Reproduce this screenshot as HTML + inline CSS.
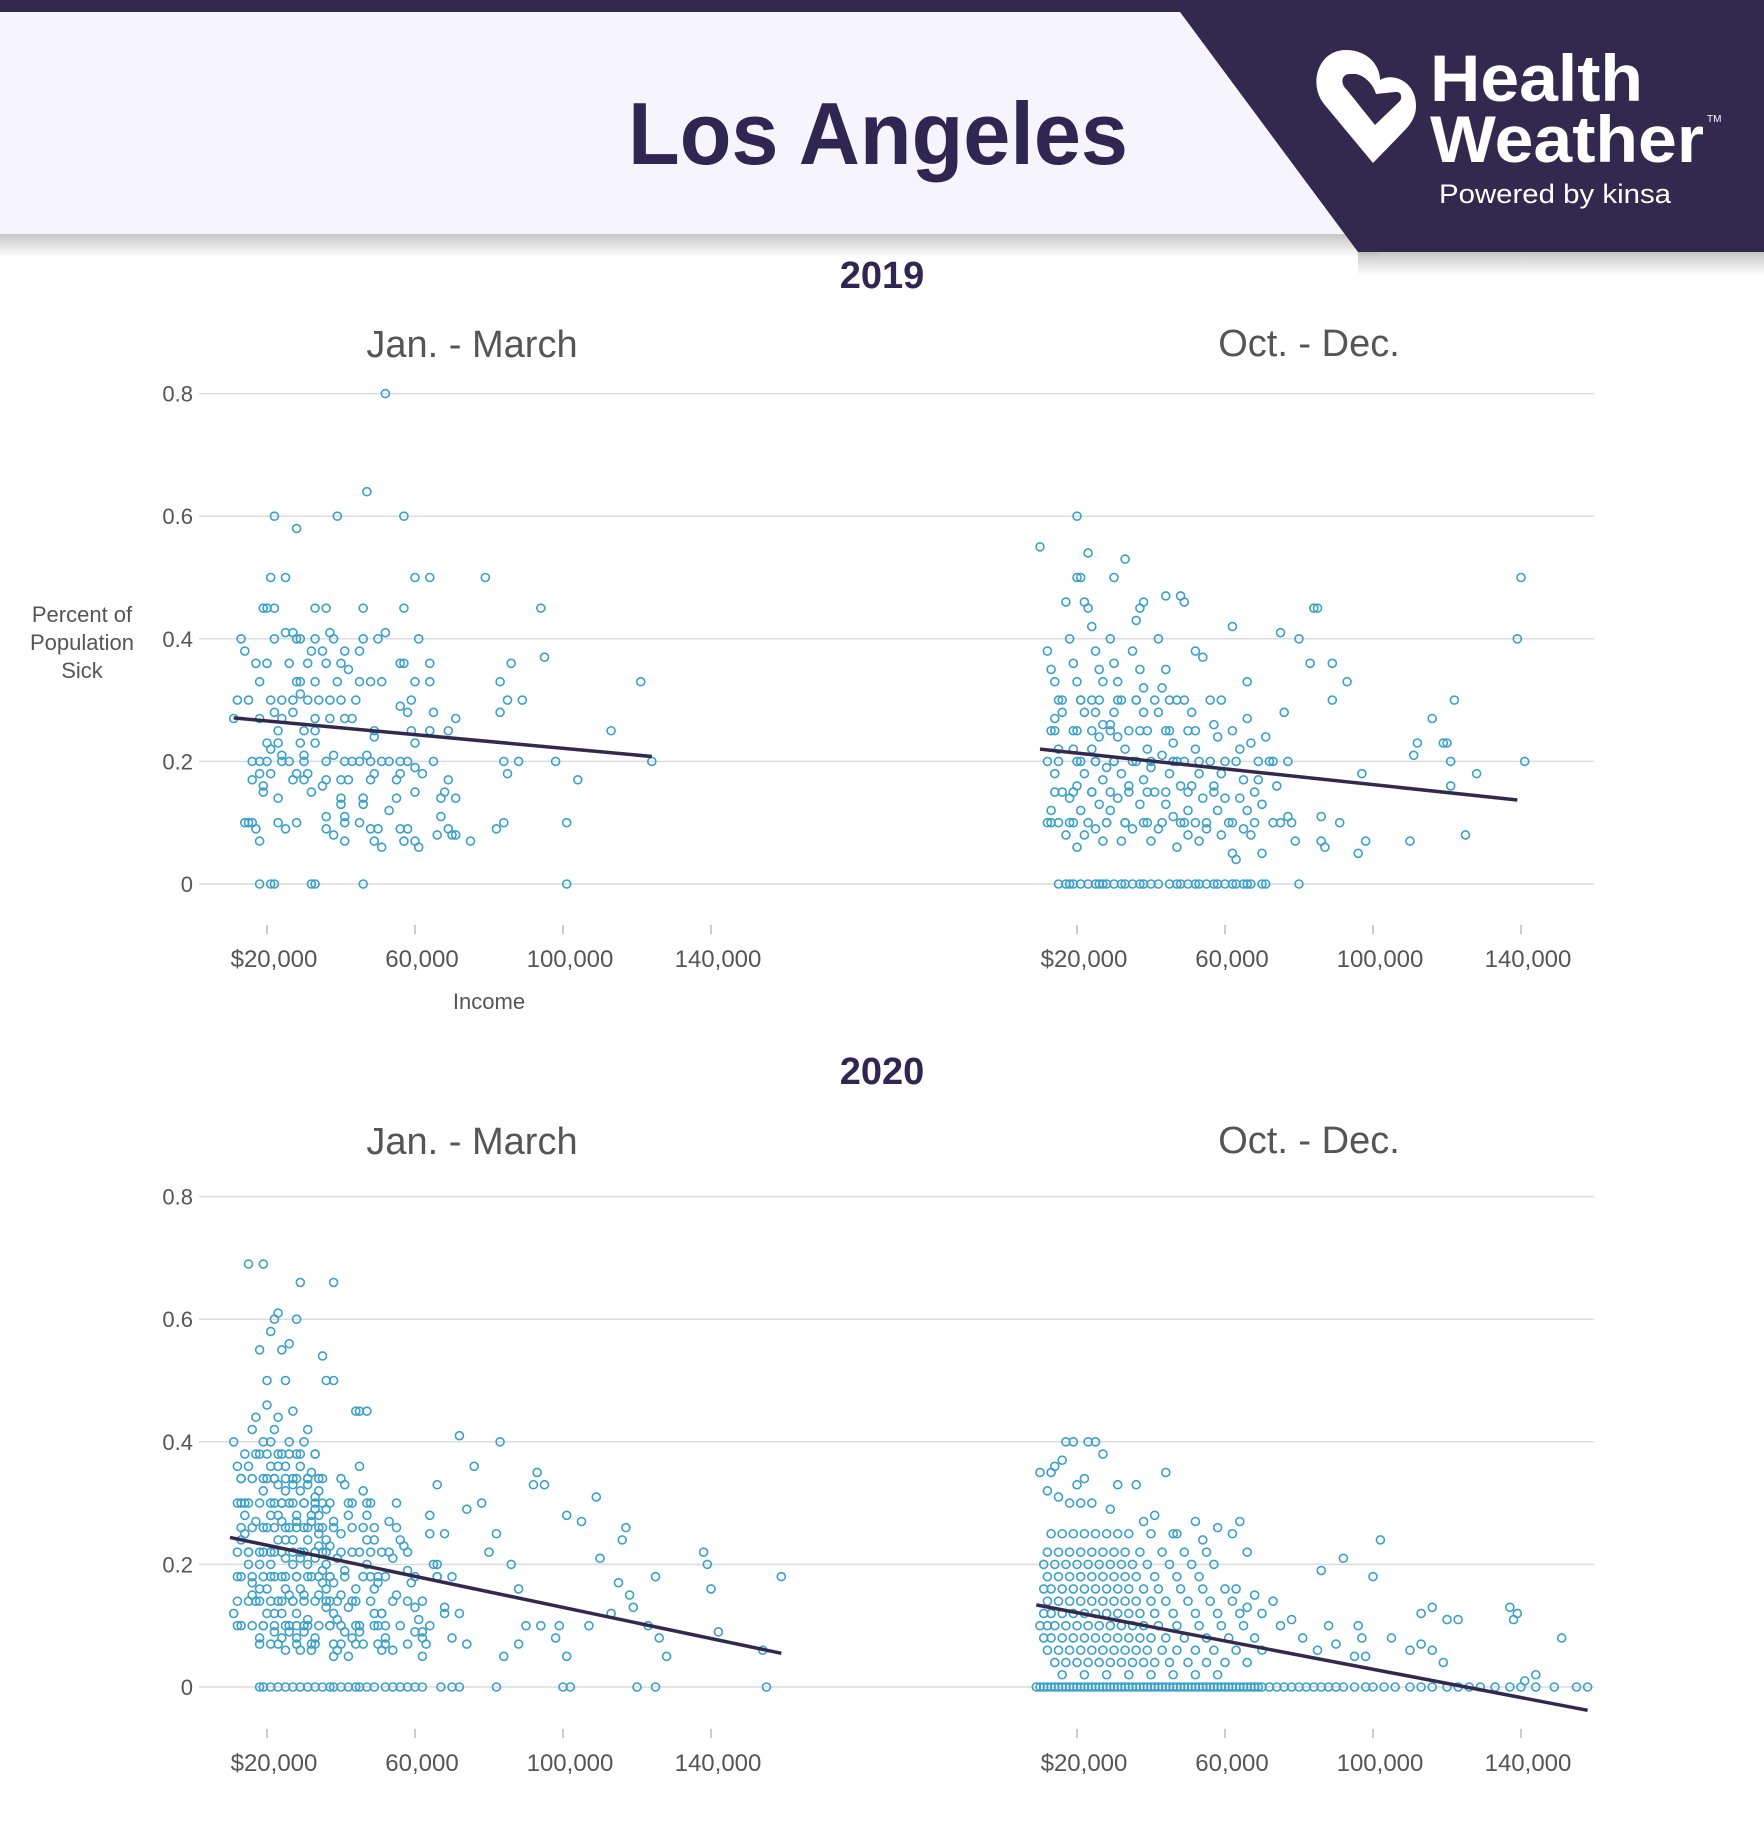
<!DOCTYPE html>
<html><head><meta charset="utf-8"><title>Los Angeles Health Weather</title>
<style>
html,body{margin:0;padding:0;background:#fff;}
svg{display:block;font-family:"Liberation Sans",sans-serif;}
</style></head>
<body>
<svg id="chart" width="1764" height="1836" viewBox="0 0 1764 1836" xmlns="http://www.w3.org/2000/svg">
<defs>
<linearGradient id="sh" x1="0" y1="0" x2="0" y2="1"><stop offset="0" stop-color="#000" stop-opacity="0.22"/><stop offset="1" stop-color="#000" stop-opacity="0"/></linearGradient>
</defs>
<g>
<rect x="0" y="234" width="1380" height="24" fill="url(#sh)"/>
<rect x="1358" y="252" width="406" height="24" fill="url(#sh)"/>
<rect x="0" y="0" width="1764" height="12" fill="#33294f"/>
<rect x="0" y="12" width="1400" height="222" fill="#f6f5fd"/>
<polygon points="1180,0 1764,0 1764,252 1358,252 1180,12" fill="#33294f"/>
<text x="878" y="164" text-anchor="middle" font-size="88" font-weight="bold" fill="#2f2652" textLength="500" lengthAdjust="spacingAndGlyphs">Los Angeles</text>
<g>
<path d="M1373,163 L1324,104 C1308,84 1318,50 1346,50 C1366,50 1380,64 1380,80 C1394,72 1416,82 1416,106 C1416,116 1411,124 1404,131 Z" fill="#fff"/>
<path d="M1350,74 C1341,74 1340,84 1347,90 L1375,125 L1400,101 C1403,96 1400,91 1395,92 L1376,94 C1374,86 1366,76 1356,74 Z" fill="#33294f"/>
</g>
<text x="1430" y="101" font-size="66" font-weight="bold" fill="#fff" textLength="213" lengthAdjust="spacingAndGlyphs">Health</text>
<text x="1430" y="162" font-size="66" font-weight="bold" fill="#fff" textLength="274" lengthAdjust="spacingAndGlyphs">Weather</text>
<text x="1707" y="122" font-size="10" fill="#fff">TM</text>
<text x="1439" y="203" font-size="27" fill="#fff" textLength="232" lengthAdjust="spacingAndGlyphs">Powered by kinsa</text>
</g>
<g id="plots"></g>
</svg>
<script>
// Data (income in thousands, share of population sick)
const tlX=[52,47,22,39,57,28,21,25,60,64,79,19,20,22,33,36,46,57,94,13,22,25,27,28,29,33,37,38,46,50,52,61,14,32,35,41,45,17,20,26,31,36,40,42,56,57,64,86,95,18,28,29,33,39,45,48,51,60,64,83,121,12,15,21,24,27,29,31,34,37,40,44,56,59,85,89,11,18,22,24,27,33,37,41,43,58,65,71,83,23,30,33,49,59,64,69,113,20,23,29,33,49,60,21,24,30,38,47,16,18,20,24,26,30,36,41,43,45,48,51,53,56,58,65,84,88,98,124,18,21,28,31,49,56,60,62,16,19,27,30,36,40,42,48,55,69,85,104,19,32,35,60,68,23,40,46,55,67,71,40,46,53,14,15,16,23,28,36,41,41,45,48,50,56,58,67,69,82,84,101,17,25,36,38,66,70,71,75,18,41,49,57,60,51,61,18,21,22,32,33,46,101];
const tlY=[.8,.64,.6,.6,.6,.58,.5,.5,.5,.5,.5,.45,.45,.45,.45,.45,.45,.45,.45,.4,.4,.41,.41,.4,.4,.4,.41,.4,.4,.4,.41,.4,.38,.38,.38,.38,.38,.36,.36,.36,.36,.36,.36,.35,.36,.36,.36,.36,.37,.33,.33,.33,.33,.33,.33,.33,.33,.33,.33,.33,.33,.3,.3,.3,.3,.3,.31,.3,.3,.3,.3,.3,.29,.3,.3,.3,.27,.27,.28,.27,.28,.27,.27,.27,.27,.28,.28,.27,.28,.25,.25,.25,.25,.25,.25,.25,.25,.23,.23,.23,.23,.24,.23,.22,.21,.21,.21,.21,.2,.2,.2,.2,.2,.2,.2,.2,.2,.2,.2,.2,.2,.2,.2,.2,.2,.2,.2,.2,.18,.18,.18,.18,.18,.18,.19,.18,.17,.16,.17,.17,.17,.17,.17,.17,.17,.17,.18,.17,.15,.15,.16,.15,.15,.14,.14,.14,.14,.14,.14,.13,.13,.12,.1,.1,.1,.1,.1,.11,.11,.1,.1,.09,.09,.09,.09,.11,.09,.09,.1,.1,.09,.09,.09,.08,.08,.08,.08,.07,.07,.07,.07,.07,.07,.06,.06,0,0,0,0,0,0,0];
const tlLine=[[11,.271],[124,.208]];

const trX=[20,10,23,33,20,21,30,44,48,49,17,22,23,38,37,84,140,139,141,85,75,80,62,52,54,59,66,76,83,89,89,93,111,112,116,119,120,121,122,128,97,110,121,125,96,98,91,86,86,87,79,78,75,73,77,72,77,74,73,71,15,17,18,23,25,27,30,32,35,37,40,45,47,50,53,55,58,60,63,65,67,70,71,80,
12,13,14,15,16,14,13,15,12,14,16,13,15,17,12,18,19,20,21,22,20,19,21,22,20,18,21,19,22,20,24,25,26,27,24,25,27,26,24,25,28,27,24,26,28,25,27,29,30,31,32,30,29,31,33,30,32,34,31,29,33,35,32,36,35,37,38,36,38,37,39,36,40,38,41,37,39,42,40,42,44,43,45,42,44,46,43,47,45,48,44,46,48,50,47,49,51,50,52,49,53,51,54,50,52,55,53,56,57,58,56,59,57,60,58,61,59,62,63,62,64,63,65,64,66,65,67,68,69,70,68,70,66,67,69];
const trY=[.6,.55,.54,.53,.5,.5,.5,.47,.47,.46,.46,.46,.45,.46,.45,.45,.5,.4,.2,.45,.41,.4,.42,.38,.37,.3,.33,.28,.36,.36,.3,.33,.21,.23,.27,.23,.23,.2,.3,.18,.18,.07,.16,.08,.05,.07,.1,.07,.11,.06,.07,.1,.1,.1,.11,.2,.2,.16,.2,.24,0,0,0,0,0,0,0,0,0,0,0,0,0,0,0,0,0,0,0,0,0,0,0,0,
.38,.35,.33,.3,.28,.27,.25,.22,.2,.18,.15,.12,.1,.08,.1,.4,.36,.33,.3,.28,.25,.22,.2,.18,.16,.14,.12,.1,.08,.06,.42,.38,.35,.33,.3,.28,.26,.24,.22,.2,.19,.17,.15,.13,.1,.09,.07,.4,.36,.33,.3,.28,.26,.24,.22,.2,.18,.16,.14,.12,.1,.09,.07,.43,.38,.35,.32,.3,.28,.25,.22,.2,.19,.17,.15,.13,.1,.09,.07,.4,.35,.32,.3,.28,.25,.23,.21,.2,.18,.16,.13,.11,.1,.08,.06,.3,.28,.25,.22,.2,.18,.16,.14,.12,.1,.09,.07,.3,.26,.24,.2,.18,.16,.14,.12,.1,.08,.05,.04,.25,.22,.2,.17,.14,.12,.09,.08,.15,.2,.13,.1,.05,.27,.23,.17];
const trRowY=[.3,.25,.2,.15,.1,0];
const trRowX=[[16,21,26,31,36,41,47],[14,19,24,29,34,39,45,52],[15,20,25,30,35,40,46,53,60],[14,19,24,29,34,39,44,50,57],[13,18,23,28,33,38,43,49,55,62],[19,21,26,28,33,38,42,48,52,57,62,66]];
const trLine=[[10,.22],[139,.137]];

const blX=[15,19,29,38,22,23,21,28,26,18,24,35,20,25,36,38,45,47,83,93,92,95,109,101,105,117,116,138,139,125,159,140,110,115,118,113,119,107,123,126,128,142,154,99,94,90,88,84,98,101,88,86,80,82,74,78,18,19,25,27,29,31,35,38,40,42,45,49,52,54,58,60,67,70,72,82,100,102,120,125,155,
11,12,13,14,15,16,12,13,14,15,16,11,12,13,14,15,16,17,18,17,18,19,20,21,17,18,19,20,21,22,18,19,20,21,22,23,19,20,21,22,23,24,20,21,22,23,24,25,21,22,23,24,25,26,22,23,24,25,26,27,23,24,25,26,27,28,24,25,26,27,28,29,25,26,27,28,29,30,26,27,28,29,30,31,27,28,29,30,31,32,28,29,30,31,32,33,29,30,31,32,33,34,30,31,32,33,34,35,31,32,33,34,35,36,32,33,34,35,36,37,33,34,35,36,37,38,34,35,36,37,38,39,36,37,38,39,40,41,38,39,40,41,42,43,40,41,42,43,44,45,42,43,44,45,46,47,44,45,46,47,48,49,46,47,48,49,50,51,48,49,50,51,52,53,50,51,52,53,54,55,52,54,56,58,60,62,55,57,59,61,63,65,58,60,62,64,66,68,62,64,66,68,70,72,66,68,70,72,74,76];
const blY=[.69,.69,.66,.66,.6,.61,.58,.6,.56,.55,.55,.54,.5,.5,.5,.5,.45,.45,.4,.35,.33,.33,.31,.28,.27,.26,.24,.22,.2,.18,.18,.16,.21,.17,.15,.12,.13,.1,.1,.08,.05,.09,.06,.1,.1,.1,.07,.05,.08,.05,.16,.2,.22,.25,.29,.3,0,0,0,0,0,0,0,0,0,0,0,0,0,0,0,0,0,0,0,0,0,0,0,0,0,
.4,.36,.3,.25,.2,.15,.1,.34,.28,.22,.17,.12,.18,.24,.3,.36,.42,.27,.2,.44,.38,.32,.26,.2,.14,.08,.4,.34,.28,.22,.16,.1,.46,.4,.34,.28,.22,.16,.36,.3,.24,.18,.12,.07,.42,.36,.3,.24,.18,.12,.33,.27,.21,.15,.09,.44,.38,.32,.26,.2,.14,.08,.36,.3,.24,.18,.12,.06,.4,.34,.28,.22,.16,.1,.33,.27,.21,.15,.09,.45,.38,.32,.26,.2,.14,.08,.36,.3,.24,.18,.12,.06,.4,.34,.28,.22,.16,.1,.33,.27,.21,.15,.09,.42,.35,.29,.23,.17,.11,.06,.31,.25,.19,.13,.07,.38,.32,.26,.2,.14,.08,.28,.22,.16,.1,.05,.34,.3,.24,.18,.12,.06,.29,.23,.17,.11,.07,.33,.27,.21,.15,.09,.05,.3,.25,.19,.13,.08,.45,.36,.28,.22,.16,.1,.26,.2,.14,.09,.32,.24,.18,.12,.07,.28,.22,.16,.1,.06,.3,.24,.18,.12,.08,.22,.17,.12,.07,.27,.21,.15,.1,.06,.24,.19,.13,.09,.3,.23,.17,.11,.07,.2,.14,.09,.05,.25,.18,.12,.08,.28,.2,.13,.08,.41,.33,.25,.18,.12,.07,.36,.28,.2,.14,.09,.06,.3,.22,.16,.1,.07,.05,.24,.18,.12,.08,.29,.21,.15,.1];
const blRowY=[.38,.34,.3,.26,.22,.18,.14,.1,.07,0];
const blRowX=[[14,17,20,23,26,29,33],[13,16,19,22,25,28,31,35,40],[12,15,18,21,24,27,30,33,37,42,47],[13,16,19,22,25,28,31,34,38,43,49,55],[12,15,18,21,24,27,30,33,36,40,45,51,58],[13,16,19,22,25,28,31,34,37,41,46,52,60,66],[12,15,18,21,24,27,30,33,36,39,43,48,54,62],[13,16,19,22,25,28,31,34,37,40,44,49,56,64],[18,23,28,33,38,44,50,58],[21,23,33,37,44,47,56,62]];
const blLine=[[10,.244],[159,.055]];

const brPts=[[17,.4],[19,.4],[23,.4],[25,.4],[27,.38],[14,.36],[13,.35],[16,.37],[20,.33],[22,.34],[12,.32],[15,.31],[18,.3],[21,.3],[24,.3],[29,.29],[10,.35],[31,.33],[36,.33],[38,.27],[44,.35],[41,.28],[47,.25],[52,.27],[58,.26],[62,.25],[64,.27],[66,.22],[54,.24],[102,.24],[92,.21],[86,.19],[100,.18],[137,.13],[138,.11],[139,.12],[151,.08],[144,.02],[141,.01],[113,.12],[116,.13],[120,.11],[123,.11],[113,.07],[116,.06],[119,.04],[110,.06],[105,.08],[96,.1],[97,.08],[95,.05],[98,.05],[90,.07],[88,.1],[85,.06],[81,.08],[78,.11],[75,.1],[73,.14],[70,.12],[68,.15],[66,.13],[63,.16]];
const brRowY=[.25,.22,.2,.18,.16,.14,.12,.1,.08,.06,.04,.02,0];
const brRowX=[[13,16,19,22,25,28,31,34,40,46],[12,15,18,21,24,27,30,33,37,43,49,55],[11,14,17,20,23,26,29,32,35,39,45,51,57],[12,15,18,21,24,27,30,33,36,41,47,53],[11,13,16,19,22,25,28,31,34,38,42,48,54,60],[12,15,18,21,24,27,30,33,36,40,44,50,56,62],[11,13,16,19,22,25,28,31,34,37,41,46,52,58,64],[10,12,14,17,20,23,26,29,32,35,38,42,47,53,59,65],[11,13,16,19,22,25,28,31,34,37,40,44,49,55,61,68],[12,15,18,21,24,27,30,33,36,39,43,47,52,57,63,70],[14,17,20,23,26,29,32,35,38,41,45,50,55,60,66],[16,22,28,34,40,46,52,58],
[9,10,11,12,13,14,15,16,17,18,19,20,21,22,23,24,25,26,27,28,29,30,31,32,33,34,35,36,37,38,39,40,41,42,43,44,45,46,47,48,49,50,51,52,53,54,55,56,57,58,59,60,61,62,63,64,65,66,67,68,69,70,72,74,76,78,80,82,84,86,88,90,92,95,98,100,103,106,110,113,116,120,123,126,129,133,137,140,144,149,155,158]];
const brLine=[[9,.134],[158,-.038]];

const yTicks=[0,0.2,0.4,0.6,0.8];
const yTickLabels=["0","0.2","0.4","0.6","0.8"];
const xTicks=[20,60,100,140];
const xTickLabels=["$20,000","60,000","100,000","140,000"];

const NS="http://www.w3.org/2000/svg";
const root=document.getElementById('plots');
function mk(tag,attrs,parent){const e=document.createElementNS(NS,tag);for(const k in attrs)e.setAttribute(k,attrs[k]);(parent||root).appendChild(e);return e;}
const PXK=3.7, PXV=613;
function xs(off){return v=>off+v*PXK;}
function ys(zero){return v=>zero-v*PXV;}

function rowAxes(zero,name){
  const y=ys(zero);
  const g=mk('g',{});
  
  
  yTicks.forEach((t,i)=>{
    const l=mk('line',{x1:199,x2:1594,y1:y(t),y2:y(t),stroke:'#dcdcdc','stroke-width':1.5},g);
    
    
    const tx=mk('text',{x:193,y:y(t)+8,'text-anchor':'end','font-size':22,fill:'#555'},g);
    
    
    tx.textContent=yTickLabels[i];
  });
}
function xAxis(off,tickY,name){
  const x=xs(off);
  const g=mk('g',{});
  
  
  xTicks.forEach((t,i)=>{
    const l=mk('line',{x1:x(t),x2:x(t),y1:tickY-5,y2:tickY+4,stroke:'#bbb','stroke-width':1.5},g);
    
    
    const tx=mk('text',{x:x(t)+7,y:tickY+37,'text-anchor':'middle','font-size':24,fill:'#555'},g);
    
    
    tx.textContent=xTickLabels[i];
  });
}
function dot(g,cx,cy){
  const c=mk('circle',{cx:cx,cy:cy,r:4,fill:'none',stroke:'#3aa0c8','stroke-width':1.6},g);
  
  
}
function panel(X,Y,rowY,rowX,pairs,line,off,zero,name){
  const x=xs(off),y=ys(zero);
  const g=mk('g',{});
  
  
  const n=Math.min(X.length,Y.length);
  for(let i=0;i<n;i++) dot(g,x(X[i]),y(Y[i]));
  rowY.forEach((v,r)=>rowX[r].forEach(k=>dot(g,x(k),y(v))));
  pairs.forEach(p=>dot(g,x(p[0]),y(p[1])));
  const l=mk('line',{x1:x(line[0][0]),y1:y(line[0][1]),x2:x(line[1][0]),y2:y(line[1][1]),stroke:'#33294f','stroke-width':3.5});
  
  
}
function label(t,x,y,size,weight,fill,name){
  const e=mk('text',{x:x,y:y,'text-anchor':'middle','font-size':size,'font-weight':weight,fill:fill});
  
  
  e.textContent=t;return e;
}
const LOFF=193, ROFF=1003;
rowAxes(884,'row-2019');
rowAxes(1687,'row-2020');
xAxis(LOFF,930,'2019-jan-march');
xAxis(ROFF,930,'2019-oct-dec');
xAxis(LOFF,1734,'2020-jan-march');
xAxis(ROFF,1734,'2020-oct-dec');
panel(tlX,tlY,[],[],[],tlLine,LOFF,884,'2019-jan-march');
panel(trX,trY,trRowY,trRowX,[],trLine,ROFF,884,'2019-oct-dec');
panel(blX,blY,blRowY,blRowX,[],blLine,LOFF,1687,'2020-jan-march');
panel([],[],brRowY,brRowX,brPts,brLine,ROFF,1687,'2020-oct-dec');
label('2019',882,288,38,'bold','#2f2652','year-2019-title');
label('2020',882,1084,38,'bold','#2f2652','year-2020-title');
label('Jan. - March',472,357,38,'normal','#555','2019-jan-march-title');
label('Oct. - Dec.',1309,356,38,'normal','#555','2019-oct-dec-title');
label('Jan. - March',472,1154,38,'normal','#555','2020-jan-march-title');
label('Oct. - Dec.',1309,1153,38,'normal','#555','2020-oct-dec-title');
label('Income',489,1009,22,'normal','#555','x-axis-title');
const yt=label('',82,622,22,'normal','#555','y-axis-title');
['Percent of','Population','Sick'].forEach((s,i)=>{const ts=mk('tspan',{x:82,dy:i?28:0},yt);ts.textContent=s;});
</script>
</body></html>
